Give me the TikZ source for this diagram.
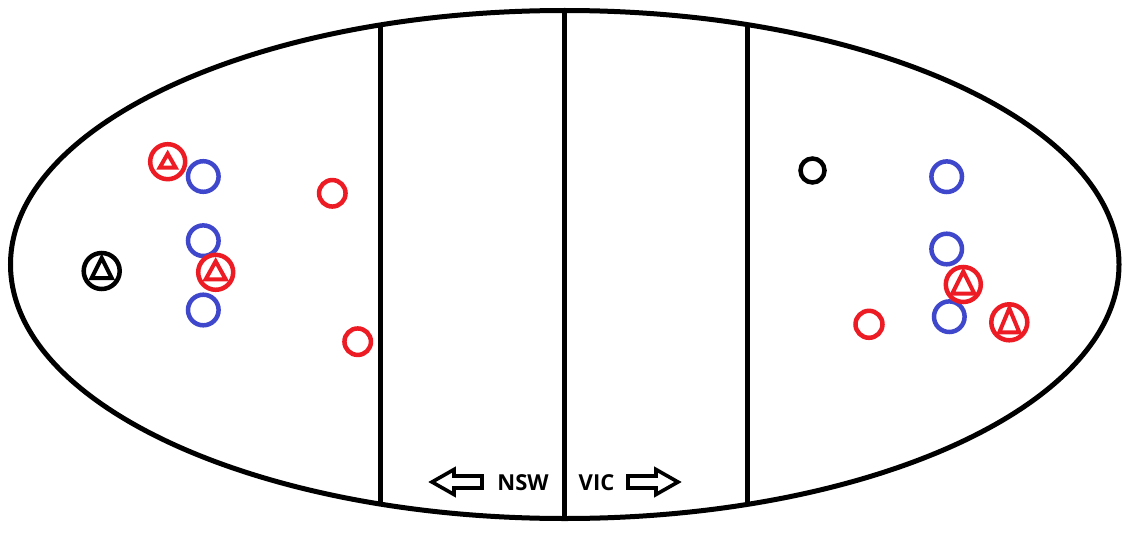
\documentclass[tikz,border=0pt]{standalone}
\usepackage{fontspec}
\newfontfamily\lblfont{Open Sans}
\definecolor{pred}{RGB}{237,28,36}
\definecolor{pblue}{RGB}{63,72,204}
\begin{document}
\begin{tikzpicture}[x=1pt,y=-1pt,
  ring/.style={circle,draw,line width=4.5pt,inner sep=0pt,minimum size=#1},
  bluep/.style={ring=30.6pt,draw=pblue},
  redp/.style={ring=26.5pt,draw=pred},
  fieldline/.style={line width=5pt},
  blockarrow/.style={line width=3.6pt,line join=miter},
  lbl/.style={font=\lblfont\bfseries\fontsize{22}{26}\selectfont,inner sep=0pt},
  pics/tri/.style args={#1/#2/#3}{code={\draw[line width=4pt,line join=miter] (0,-#1) -- (#3,#2) -- (-#3,#2) -- cycle;}}
]
\useasboundingbox (0,0) rectangle (1146,535);
\fill[white] (0,0) rectangle (1146,535);
% field
\begin{scope}
  \clip (564.75,264.5) ellipse [x radius=554.25pt, y radius=254pt];
  \draw[fieldline] (380.5,0) -- (380.5,535);
  \draw[fieldline] (564.5,0) -- (564.5,535);
  \draw[fieldline] (747.5,0) -- (747.5,535);
\end{scope}
\draw[fieldline] (564.75,264.5) ellipse [x radius=554.25pt, y radius=254pt];
% left team
\node[ring=35pt,draw=pred] (ta) at (167.7,161.7) {};
\pic[pred] at (ta) {tri=8/6/8};
\node[bluep] (b1) at (203.3,176.5) {};
\node[bluep] (b2) at (203.3,240.7) {};
\node[bluep] (b3) at (203.3,310) {};
\node[ring=35pt,draw=pred] (tb) at (215.7,272.3) {};
\pic[pred] at (tb) {tri=11/7/10};
\node[ring=36pt,draw=black] (tk) at (101.7,271) {};
\pic[black] at (tk) {tri=13/7/10};
\node[redp] (r1) at (332.3,193.3) {};
\node[redp] (r2) at (357.7,341.7) {};
% right team
\node[ring=24pt,draw=black] (k2) at (812.5,170.5) {};
\node[bluep] (b4) at (946.7,176.7) {};
\node[bluep] (b5) at (946.7,249) {};
\node[bluep] (b6) at (949.3,316.7) {};
\node[ring=35pt,draw=pred] (tc) at (963.3,284.5) {};
\pic[pred] at (tc) {tri=13/9/11};
\node[ring=36pt,draw=pred] (td) at (1009.3,322.3) {};
\pic[pred] at (td) {tri=14/10/10};
\node[ring=27pt,draw=pred] (r3) at (869,324.3) {};
% labels and arrows
\node[lbl] (nsw) at (523,482.5) {NSW};
\node[lbl] (vic) at (596.5,482.5) {VIC};
\draw[blockarrow] (432,482) -- (454,469.5) -- (454,476) -- (482,476) -- (482,488) -- (454,488) -- (454,494.5) -- cycle;
\draw[blockarrow] (678,482) -- (656,469.5) -- (656,476) -- (628,476) -- (628,488) -- (656,488) -- (656,494.5) -- cycle;
\end{tikzpicture}
\end{document}
